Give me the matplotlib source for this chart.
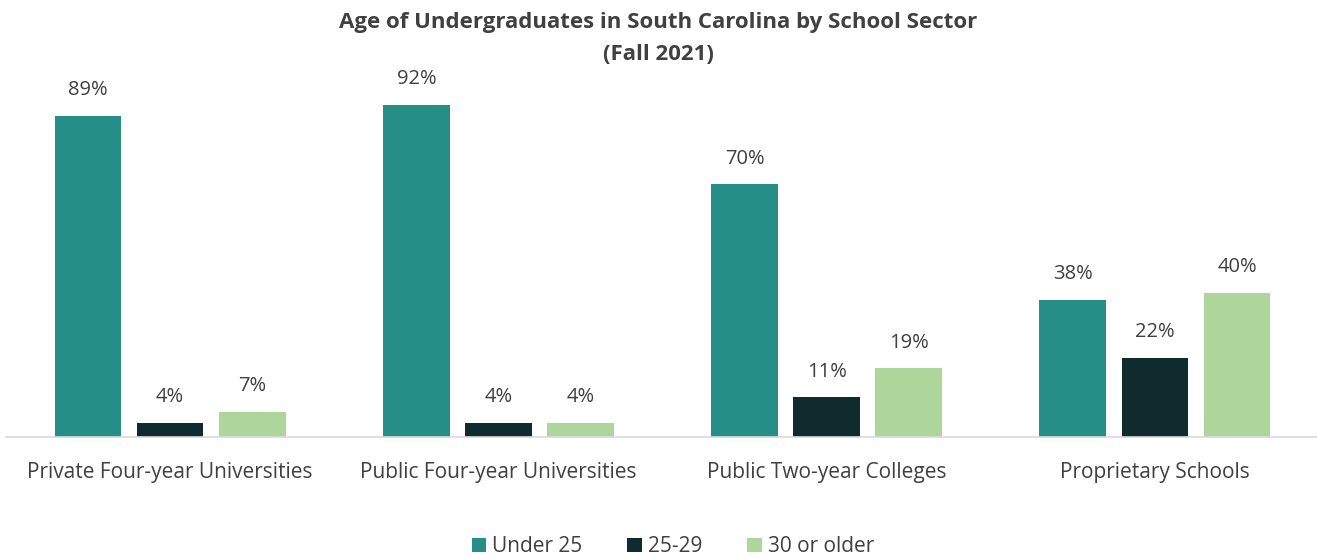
import numpy as np
import matplotlib.pyplot as plt

plt.rcParams['font.family'] = ['Open Sans', 'DejaVu Sans']

categories = ['Private Four-year Universities', 'Public Four-year Universities',
              'Public Two-year Colleges', 'Proprietary Schools']
series = ['Under 25', '25-29', '30 or older']
under25 = [89, 92, 70, 38]
age25_29 = [4, 4, 11, 22]
over30 = [7, 4, 19, 40]
colors = ['#258F87', '#0F2B2E', '#AED59A']

values = [under25, age25_29, over30]
x = np.arange(len(categories))

fig = plt.figure(figsize=(13.17, 5.58), dpi=100)
ax = fig.add_axes([6 / 1317, 121 / 558, 1313 / 1317, 361 / 558])

width = 0.203
offsets = [-0.25, 0, 0.25]
for vals, name, col, off in zip(values, series, colors, offsets):
    bars = ax.bar(x + off, vals, width, color=col, label=name)
    for b, v in zip(bars, vals):
        ax.text(b.get_x() + b.get_width() / 2, v + 4.3, f'{v}%',
                ha='center', va='bottom', fontsize=14.5, color='#404040')

ax.set_xlim(-0.5, len(categories) - 0.5)
ax.set_ylim(0, 100)
ax.set_xticks(x)
ax.set_xticklabels(categories, fontsize=15, color='#404040')
ax.tick_params(axis='x', length=0, pad=18)
ax.set_yticks([])
for s in ['top', 'right', 'left']:
    ax.spines[s].set_visible(False)
ax.spines['bottom'].set_color('#D9D9D9')
ax.spines['bottom'].set_linewidth(1.2)

fig.text(0.5, 0.978, 'Age of Undergraduates in South Carolina by School Sector\n(Fall 2021)',
         ha='center', va='top', fontsize=16, fontweight='bold', color='#404040',
         linespacing=1.65)

fig.legend(loc='lower center', bbox_to_anchor=(0.511, -0.032), ncol=3, frameon=False,
           fontsize=15, handlelength=0.7, handleheight=0.7, handletextpad=0.3,
           columnspacing=2.15, labelcolor='#404040')

fig.savefig('out.png', dpi=100)
